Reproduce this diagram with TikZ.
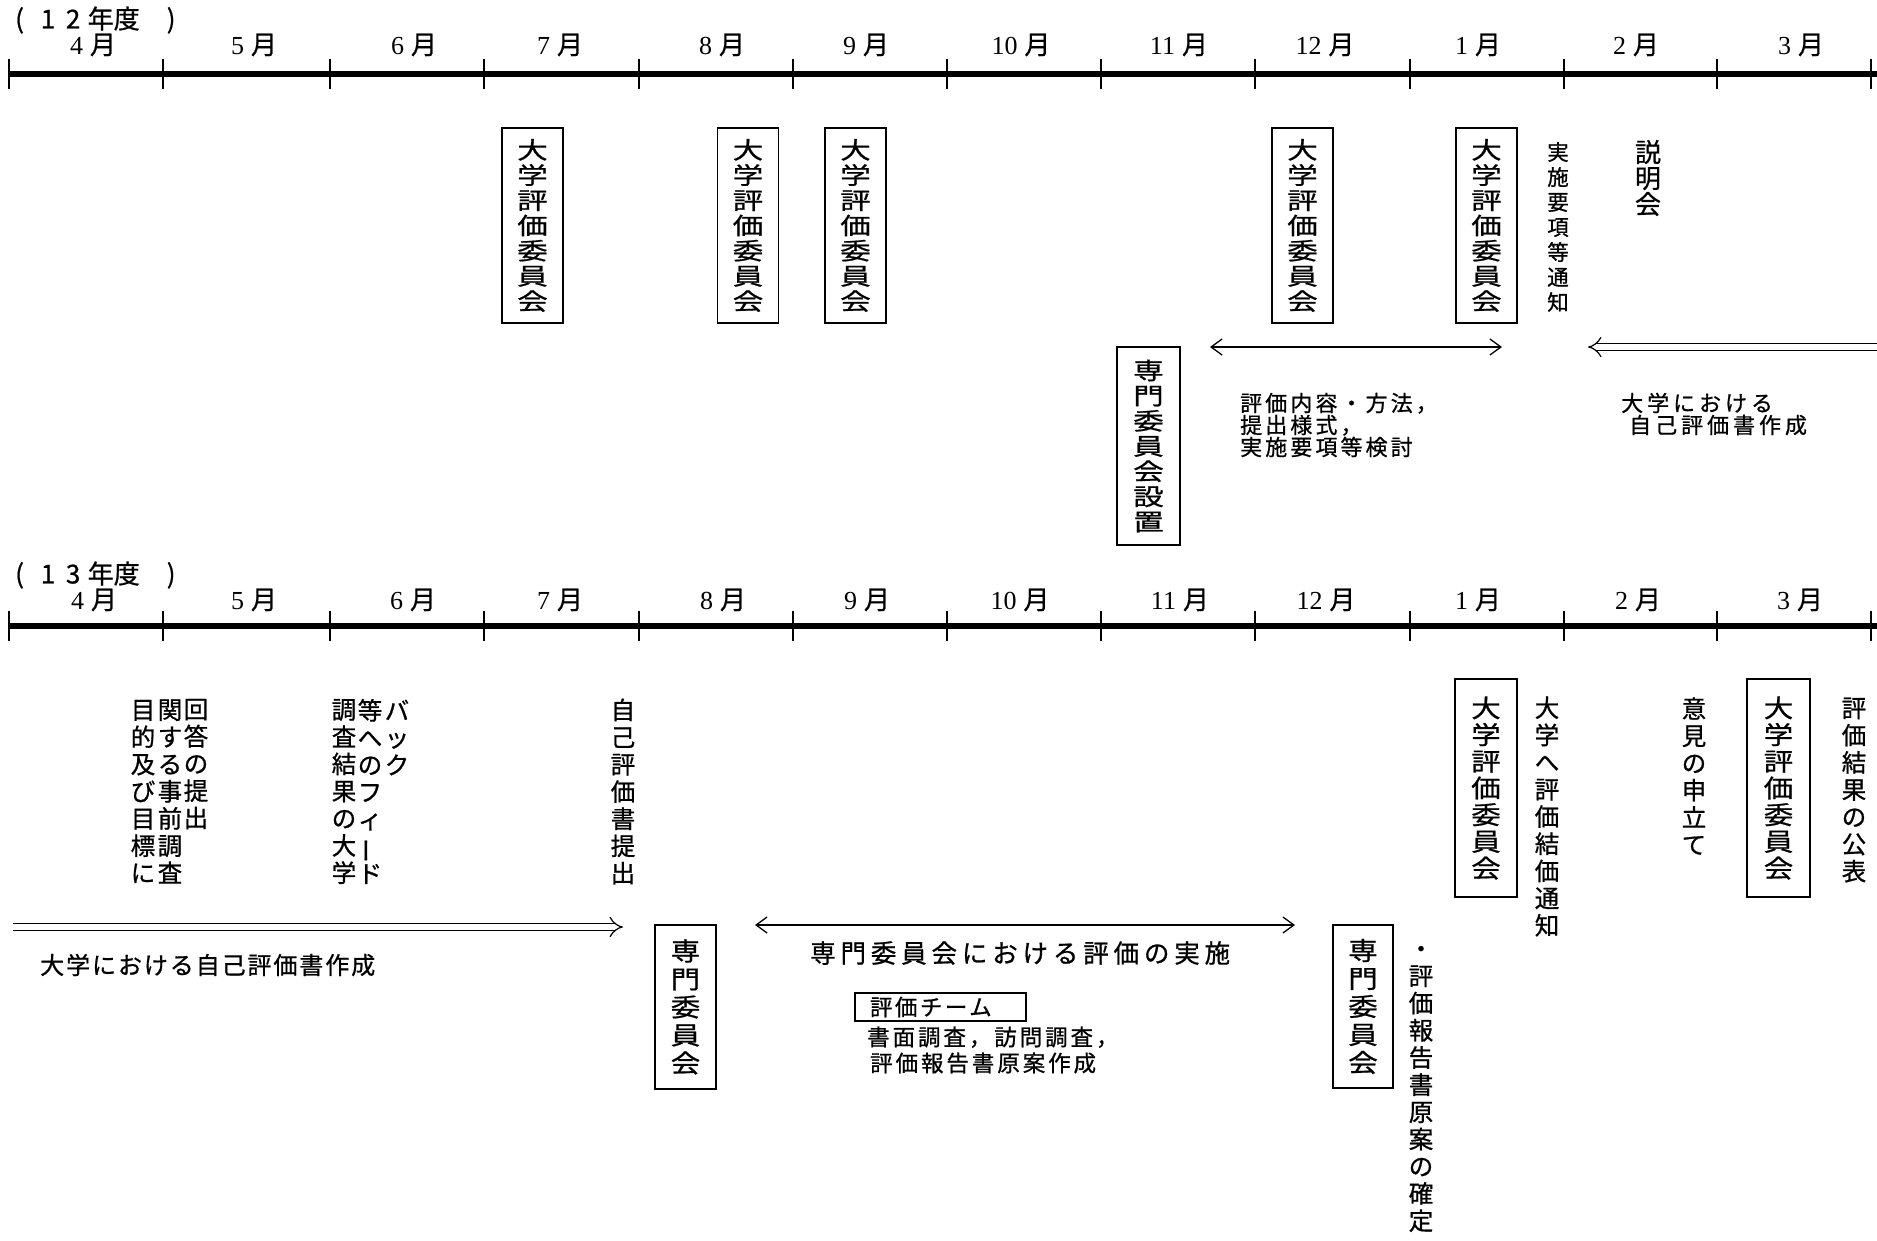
\documentclass[tikz,border=0pt]{standalone}
\usepackage{fontspec}
\newfontfamily\jp[FakeBold=0.8]{Noto Sans CJK JP}
\newfontfamily\jpw[FakeStretch=1.3,FakeBold=0.8]{Noto Sans CJK JP}
\newfontfamily\jpv[FakeStretch=1.18,FakeBold=0.8]{Noto Sans CJK JP}
\newfontfamily\ser{Liberation Serif}
\usetikzlibrary{arrows.meta}
\newcommand{\mlab}[1]{{\ser\fontsize{26}{26}\selectfont #1}\hspace{7pt}{\jp\fontsize{26}{26}\selectfont 月}}
\newcommand{\vbar}{\rotatebox[origin=c]{90}{ー}}
\begin{document}
\begin{tikzpicture}[x=1pt,y=-1pt,
  tline/.style={line width=6.5pt},
  mtick/.style={line width=1.6pt},
  ubox/.style={draw, line width=1.4pt, inner sep=0pt, align=center, minimum width=61pt,
    font=\jpw\fontsize{23.5}{25.2}\selectfont},
  sbox/.style={draw, line width=1.4pt, inner sep=0pt, align=center, minimum width=61pt,
    font=\jpv\fontsize{25}{26.7}\selectfont},
  vtxt/.style={inner sep=0pt, align=center, font=\jp\fontsize{24.5}{27.2}\selectfont},
  htxt/.style={inner sep=0pt, align=left, anchor=west},
  darr/.style={double, double distance=6pt, line width=1.2pt, -{Implies}},
  sarr/.style={line width=1.3pt, {Straight Barb[length=11pt,width=16pt]}-{Straight Barb[length=11pt,width=16pt]}},
  mlabel/.style={inner sep=0pt},
  yr/.style={inner sep=0pt, anchor=west, font=\jp\fontsize{26}{26}\selectfont}
]
\useasboundingbox (0,0) rectangle (1877,1240);

% ---------- year 12 ----------
\node[yr] (yA) at (15,20) {(\hspace{16.8pt}1\hspace{10.7pt}2\hspace{7.4pt}年度\hspace{27pt})};
\coordinate (tlAs) at (9,74);
\coordinate (tlAe) at (1877,74);
\draw[tline] (tlAs) -- (tlAe);
\foreach \x in {9,163,330,484,639,793,947,1101,1255,1410,1564,1717,1871}
  \draw[mtick] (\x,59) -- (\x,89);
\foreach \x/\m in {93/4,254/5,414/6,560/7,722/8,866/9,1021/10,1179/11,1325/12,1478/1,1636/2,1801/3}
  \node[mlabel] (mA\m) at (\x,45) {\mlab{\m}};

\node[ubox, minimum height=195pt] (uA1) at (532.5,225.5) {大\\学\\評\\価\\委\\員\\会};
\node[ubox, minimum height=195pt] (uA2) at (748,225.5) {大\\学\\評\\価\\委\\員\\会};
\node[ubox, minimum height=195pt] (uA3) at (855.5,225.5) {大\\学\\評\\価\\委\\員\\会};
\node[ubox, minimum height=195pt] (uA4) at (1302.5,225.5) {大\\学\\評\\価\\委\\員\\会};
\node[ubox, minimum height=195pt] (uA5) at (1486.5,225.5) {大\\学\\評\\価\\委\\員\\会};
\node[ubox, minimum width=63pt, minimum height=198pt] (senA) at (1148.5,446) {専\\門\\委\\員\\会\\設\\置};

\node[vtxt, font=\jp\fontsize{21.5}{25}\selectfont] (notice) at (1558,227) {実\\施\\要\\項\\等\\通\\知};
\node[vtxt, font=\jp\fontsize{26}{26}\selectfont] (setsu) at (1648,178) {説\\明\\会};

\coordinate (kA) at (1210,347);
\coordinate (kB) at (1502,347);
\draw[sarr] (kA) -- (kB);
\coordinate (jA) at (1877,347);
\coordinate (jB) at (1588,347);
\draw[darr] (jA) -- (jB);

\node[htxt, font=\jp\fontsize{22}{22}\selectfont\addfontfeatures{LetterSpace=14}] (kentou) at (1240,425) {評価内容・方法，\\提出様式，\\実施要項等検討};
\node[htxt, font=\jp\fontsize{22}{22}\selectfont\addfontfeatures{LetterSpace=18}] (jikoA) at (1621,414) {大学における\\\hspace*{8pt}自己評価書作成};

% ---------- year 13 ----------
\node[yr] (yB) at (15,575) {(\hspace{16.8pt}1\hspace{10.7pt}3\hspace{7.4pt}年度\hspace{27pt})};
\coordinate (tlBs) at (9,626);
\coordinate (tlBe) at (1877,626);
\draw[tline] (tlBs) -- (tlBe);
\foreach \x in {9,163,330,484,639,793,947,1101,1255,1410,1564,1717,1871}
  \draw[mtick] (\x,611) -- (\x,641);
\foreach \x/\m in {94/4,254/5,413/6,560/7,723/8,867/9,1020/10,1180/11,1326/12,1478/1,1638/2,1800/3}
  \node[mlabel] (mB\m) at (\x,600) {\mlab{\m}};

\node[vtxt] (c1) at (143,791.5) {目\\的\\及\\び\\目\\標\\に};
\node[vtxt] (c2) at (170,791.5) {関\\す\\る\\事\\前\\調\\査};
\node[vtxt] (c3) at (196,764) {回\\答\\の\\提\\出};
\node[vtxt] (d1) at (344,791.5) {調\\査\\結\\果\\の\\大\\学};
\node[vtxt] (d2) at (370,791.5) {等\\へ\\の\\フ\\ィ\\\vbar\\ド};
\node[vtxt] (d3) at (397,737.5) {バ\\ッ\\ク};
\node[vtxt] (e1) at (623,791.5) {自\\己\\評\\価\\書\\提\\出};

\coordinate (sA) at (13,927);
\coordinate (sB) at (623,927);
\draw[darr] (sA) -- (sB);
\node[htxt, font=\jp\fontsize{24}{24}\selectfont\addfontfeatures{LetterSpace=8}] (jikoB) at (40,965) {大学における自己評価書作成};

\node[sbox, minimum height=164pt, font=\jpv\fontsize{25}{28}\selectfont] (sen8) at (685.5,1007) {専\\門\\委\\員\\会};
\coordinate (hA) at (755,925);
\coordinate (hB) at (1295,925);
\draw[sarr] (hA) -- (hB);
\node[htxt, font=\jp\fontsize{25.5}{25.5}\selectfont\addfontfeatures{LetterSpace=19}] (jisshi) at (810,953) {専門委員会における評価の実施};
\node[draw, line width=1.4pt, inner sep=0pt, minimum width=171pt, minimum height=28pt, text width=171pt, align=left,
  font=\jp\fontsize{22.5}{22.5}\selectfont\addfontfeatures{LetterSpace=11}] (team) at (940.5,1007) {\hspace*{15pt}\raisebox{-3pt}{評価チーム}};
\node[htxt, font=\jp\fontsize{22.5}{26}\selectfont\addfontfeatures{LetterSpace=13}] (shomen) at (867,1050) {書面調査，訪問調査，\\\hspace*{3pt}評価報告書原案作成};

\node[sbox, minimum width=60pt, minimum height=163pt, font=\jpv\fontsize{25}{28}\selectfont] (sen12) at (1363,1006.5) {専\\門\\委\\員\\会};
\node[vtxt] (kakutei) at (1421,1089) {・\\評\\価\\報\\告\\書\\原\\案\\の\\確\\定};

\node[sbox, minimum width=62pt, minimum height=218pt] (uB1) at (1486,788) {大\\学\\評\\価\\委\\員\\会};
\node[vtxt] (tsuchi) at (1547,816.5) {大\\学\\へ\\評\\価\\結\\価\\通\\知};
\node[vtxt] (moushi) at (1694,776) {意\\見\\の\\申\\立\\て};
\node[sbox, minimum width=63pt, minimum height=218pt] (uB3) at (1778.5,788) {大\\学\\評\\価\\委\\員\\会};
\node[vtxt] (kohyo) at (1854,790) {評\\価\\結\\果\\の\\公\\表};
\end{tikzpicture}
\end{document}
